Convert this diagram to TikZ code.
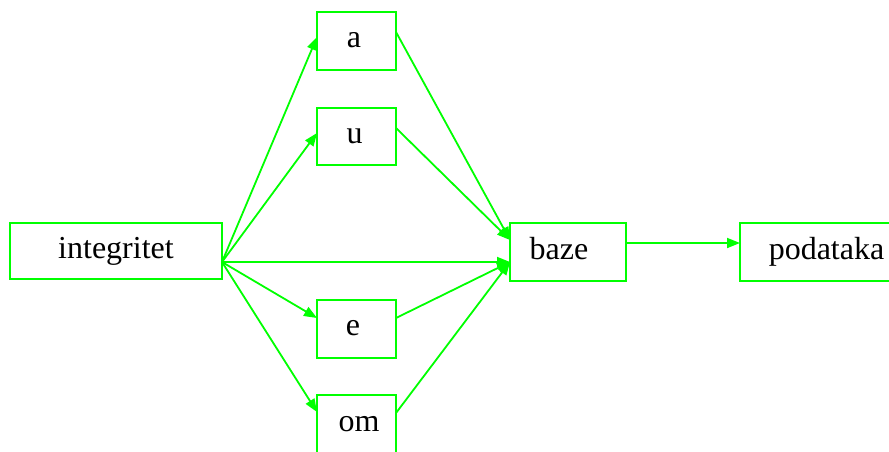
\documentclass[tikz,border=0pt]{standalone}
\usepackage{fontspec}
\setmainfont{Liberation Serif}
\usetikzlibrary{arrows.meta}
\definecolor{edgegreen}{RGB}{0,255,0}
\tikzset{
  box/.style={draw=edgegreen, line width=2.6pt, rectangle, inner sep=0pt, outer sep=0pt},
  word/.style={anchor=base, inner sep=0pt, font=\fontsize{32}{38}\selectfont},
  link/.style={draw=edgegreen, line width=1.8pt, -{Triangle[length=13pt,width=10pt]}},
}
\begin{document}
\begin{tikzpicture}[x=1pt, y=-1pt]
\useasboundingbox (0,0) rectangle (889,451);
% boxes
\node[box, minimum width=212pt, minimum height=56pt] (integritet) at (116,251) {};
\node[box, minimum width=79pt, minimum height=58pt] (a) at (356.5,41) {};
\node[box, minimum width=79pt, minimum height=57pt] (u) at (356.5,136.5) {};
\node[box, minimum width=79pt, minimum height=58pt] (e) at (356.5,329) {};
\node[box, minimum width=79pt, minimum height=58pt] (om) at (356.5,424) {};
\node[box, minimum width=116pt, minimum height=58pt] (baze) at (568,252) {};
\node[box, minimum width=173pt, minimum height=58pt] (podataka) at (826.5,252) {};
% labels
\node[word] (t-integritet) at (116,258) {integritet};
\node[word] (t-a) at (354,47) {a};
\node[word] (t-u) at (354.5,143) {u};
\node[word] (t-e) at (353,335) {e};
\node[word] (t-om) at (359,431) {om};
\node[word] (t-baze) at (559,259) {baze};
\node[word] (t-podataka) at (826.5,259) {podataka};
% connectors
\coordinate (src) at ([yshift=-11pt]integritet.east);
\draw[link] (src) -- ([yshift=4pt]a.west);
\draw[link] (src) -- ([yshift=3.5pt]u.west);
\draw[link] (src) -- ([yshift=-10pt]baze.west);
\draw[link] (src) -- ([yshift=11pt]e.west);
\draw[link] (src) -- ([yshift=12pt]om.west);
\draw[link] ([yshift=9pt]a.east) -- ([yshift=12pt]baze.west);
\draw[link] ([yshift=8.5pt]u.east) -- ([yshift=12pt]baze.west);
\draw[link] ([yshift=11pt]e.east) -- ([yshift=-10pt]baze.west);
\draw[link] ([yshift=11pt]om.east) -- ([yshift=-10pt]baze.west);
\draw[link] ([yshift=9pt]baze.east) -- ([yshift=9pt]podataka.west);
\end{tikzpicture}
\end{document}
